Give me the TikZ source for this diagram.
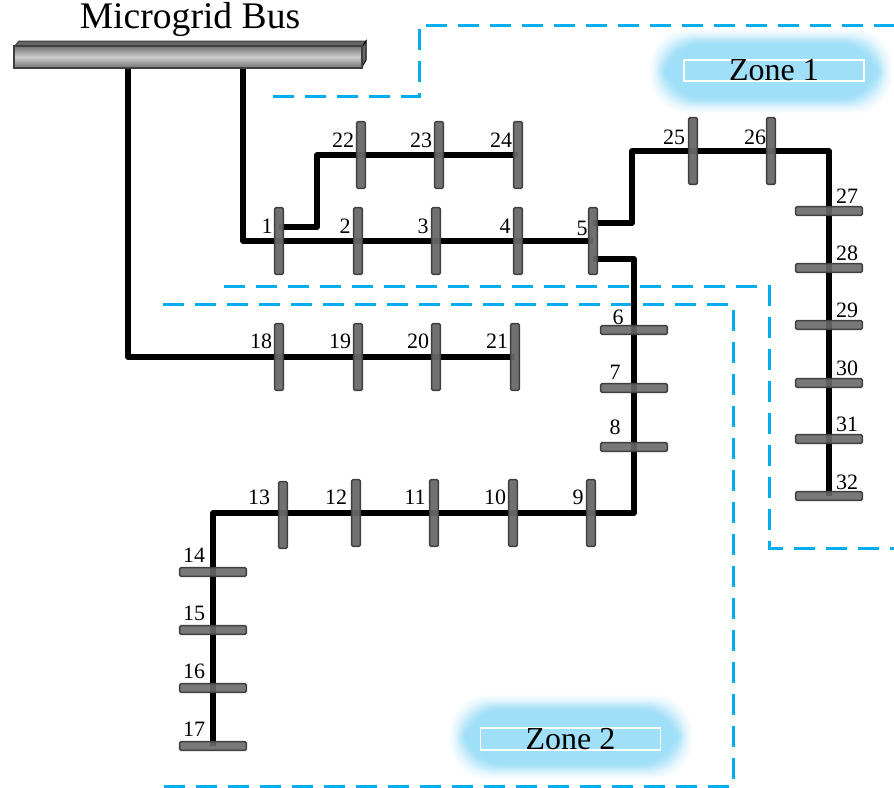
\documentclass[tikz,border=0pt]{standalone}
\usepackage{fontspec}
\setmainfont{Liberation Serif}
\usetikzlibrary{backgrounds}
\definecolor{zoneblue}{HTML}{00AEEF}
\definecolor{glowblue}{HTML}{A0DFF8}
\definecolor{bargray}{HTML}{696969}
\definecolor{baredge}{HTML}{3F3F3F}
\begin{document}
\begin{tikzpicture}[
  x=0.02cm, y=-0.02cm,
  vbar/.style={draw=baredge, line width=0.3mm, fill=bargray, fill opacity=.95,
    rounded corners=0.3mm, minimum width=1.75mm, minimum height=13.4mm, inner sep=0pt},
  hbar/.style={draw=baredge, line width=0.3mm, fill=bargray, fill opacity=.9,
    rounded corners=0.3mm, minimum width=13.4mm, minimum height=1.75mm, inner sep=0pt},
  mainbar/.style={draw=baredge, line width=0.4mm, top color=black!55, bottom color=black!55,
    middle color=black!20, minimum width=69.6mm, minimum height=4.4mm, inner sep=0pt},
  wire/.style={draw=black, line width=1.1mm, line join=round},
  zoneline/.style={draw=zoneblue, line width=0.6mm, dash pattern=on 4.2mm off 2.2mm},
  zonebox/.style={draw=white, line width=0.35mm, minimum width=36mm, minimum height=4.2mm,
    inner sep=0pt, font=\fontsize{18.2pt}{18pt}\selectfont},
  buslbl/.style={font=\fontsize{12.5pt}{13pt}\selectfont, inner sep=0pt},
]
\useasboundingbox (0,0) rectangle (894,788);

% Glow behind the zone names
\foreach \zx/\zy in {771/71, 571/737}
  \foreach \g/\pct in {0/3, 1/7, 2/12, 3/18, 4/25, 5/33, 6/42, 7/52, 8/62, 9/72, 10/82, 11/90, 12/96, 13/100}
    \fill[glowblue!\pct!white, rounded corners=7.5mm]
      (\zx-122+1.25*\g,\zy-43+1.25*\g) rectangle (\zx+122-1.25*\g,\zy+43-1.25*\g);

% Microgrid bus
\fill[black!60, draw=baredge, line width=0.2mm] (14,47) -- (19,41) -- (366,41) -- (362,47) -- cycle;
\fill[black!60, draw=black, line width=0.2mm] (362,47) -- (366,41) -- (366,60) -- (362,67) -- cycle;
\node[mainbar] (mainbus) at (188,57) {};
\node[font=\fontsize{21.4pt}{22pt}\selectfont, inner sep=0pt] (maintitle) at (190,20) {Microgrid Bus};

% Vertical bars: id / x / y / label x / label y
\foreach \id/\cx/\cy/\lx/\ly in {
  1/279/241/267/226, 2/358/241/345/226, 3/436/241/423/226, 4/518/241/505/226, 5/593/241/582/228,
  22/361/155/343/140, 23/439/155/421/140, 24/518/155/501/140,
  25/693/151/674/137, 26/771/151/755/137,
  18/279/357/261/341, 19/358/357/340/341, 20/436/357/418/341, 21/515/357/497/341,
  13/283/515/259/497, 12/356/513/336/497, 11/434/513/415/497, 10/513/513/495/497, 9/591/513/578/497}
{
  \node[vbar] (bus\id) at (\cx,\cy) {};
  \node[buslbl] (lbl\id) at (\lx,\ly) {\id};
}

% Horizontal bars
\foreach \id/\cx/\cy/\lx/\ly in {
  6/634/330/618/317, 7/634/388/615/372, 8/634/447/615/427,
  27/829/211/847/196, 28/829/268/847/253, 29/829/325/847/310,
  30/829/383/847/368, 31/829/439/847/424, 32/829/496/847/482,
  14/213/572/194/555, 15/213/630/194/613, 16/213/688/194/671, 17/213/746/194/729}
{
  \node[hbar] (bus\id) at (\cx,\cy) {};
  \node[buslbl] (lbl\id) at (\lx,\ly) {\id};
}

% Zone names
\node[zonebox] (zoneone) at (774,70.5) {Zone 1};
\node[zonebox] (zonetwo) at (570.5,739) {Zone 2};

% Free ends of the wires
\coordinate (feedleft) at (128,68);
\coordinate (feedright) at (243,68);
\coordinate (tapone) at (279,227);
\coordinate (bendone) at (317,227);
\coordinate (tapfive) at (593,223);
\coordinate (bendfive) at (632,223);
\coordinate (tapsix) at (593,259);

% Wires and zone borders go under the bars
\begin{pgfonlayer}{background}
  \draw[zoneline] (273,96) -- (419,96) -- (419,25) -- (894,25);
  \draw[zoneline] (224,286) -- (769,286) -- (769,548) -- (894,548);
  \draw[zoneline] (163,304) -- (733,304) -- (733,786) -- (163,786);

  \draw[wire] (feedleft) |- (bus18.center) -- (bus21.center);
  \draw[wire] (feedright) |- (bus1.center) -- (bus5.center);
  \draw[wire] (tapone) -- (bendone) |- (bus22.center) -- (bus24.center);
  \draw[wire] (tapfive) -- (bendfive) |- (bus25.center) -- (bus26.center) -| (bus32.center);
  \draw[wire] (tapsix) -| (bus6.center) |- (bus9.center) -- (bus12.center) -| (bus14.center) -- (bus17.center);
\end{pgfonlayer}

\end{tikzpicture}
\end{document}
